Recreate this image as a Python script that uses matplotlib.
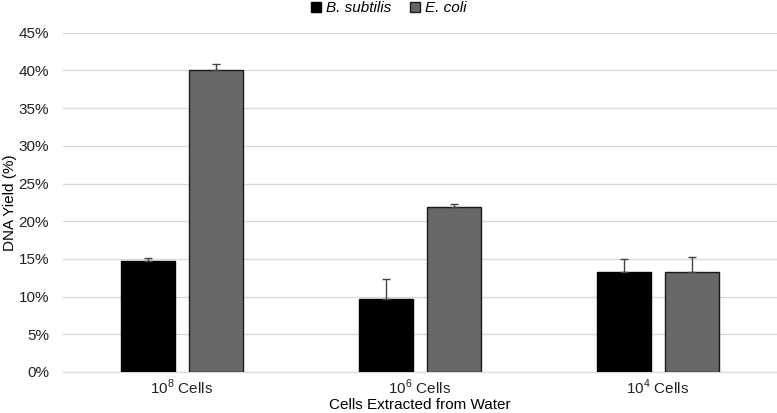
import matplotlib.pyplot as plt
import numpy as np

plt.rcParams['font.family'] = ['Liberation Sans', 'DejaVu Sans']
plt.rcParams['mathtext.fontset'] = 'custom'
plt.rcParams['mathtext.rm'] = 'Liberation Sans'

categories = ['10$^8$ Cells', '10$^6$ Cells', '10$^4$ Cells']
bsub = [0.147, 0.0965, 0.132]
bsub_err = [0.004, 0.027, 0.018]
ecoli = [0.400, 0.219, 0.132]
ecoli_err = [0.008, 0.004, 0.021]

fig = plt.figure(figsize=(7.77, 4.13), dpi=100)
ax = fig.add_axes([0.081, 0.0993, 0.919, 0.8215])

x = np.arange(len(categories))
w = 0.228
off = 0.143
ax.bar(x - off, bsub, w, color='black', edgecolor='black', linewidth=1,
       label='B. subtilis', zorder=3)
ax.bar(x + off, ecoli, w, color='#686868', edgecolor='#1a1a1a', linewidth=1,
       label='E. coli', zorder=3)
ax.errorbar(x - off, bsub, yerr=[np.zeros(3), bsub_err], fmt='none',
            ecolor='#444444', elinewidth=1, capsize=3, zorder=4)
ax.errorbar(x + off, ecoli, yerr=[np.zeros(3), ecoli_err], fmt='none',
            ecolor='#444444', elinewidth=1, capsize=3, zorder=4)

ax.set_xlim(-0.5, 2.5)
ax.set_ylim(0, 0.45)
ax.set_yticks(np.arange(0, 0.46, 0.05))
ax.set_yticklabels([f'{int(round(v * 100))}%' for v in np.arange(0, 0.46, 0.05)])
ax.set_xticks(x)
ax.set_xticklabels(categories)
ax.tick_params(axis='both', length=0, labelsize=11, colors='#222222')
ax.tick_params(axis='y', pad=10)
ax.tick_params(axis='x', pad=4)
ax.grid(axis='y', color='#d9d9d9', linewidth=1, zorder=0)
for s in ['top', 'right', 'left']:
    ax.spines[s].set_visible(False)
ax.spines['bottom'].set_color('#d9d9d9')

ax.set_ylabel('DNA Yield (%)', fontsize=11, labelpad=1)
ax.set_xlabel('Cells Extracted from Water', fontsize=11, labelpad=1)

leg = fig.legend(loc='upper center', bbox_to_anchor=(0.5, 1.03), ncol=2,
                 frameon=False, fontsize=11, handlelength=0.7, handleheight=0.7,
                 handletextpad=0.3, columnspacing=1.2)
for t in leg.get_texts():
    t.set_fontstyle('italic')

fig.savefig('out.png', dpi=100)
